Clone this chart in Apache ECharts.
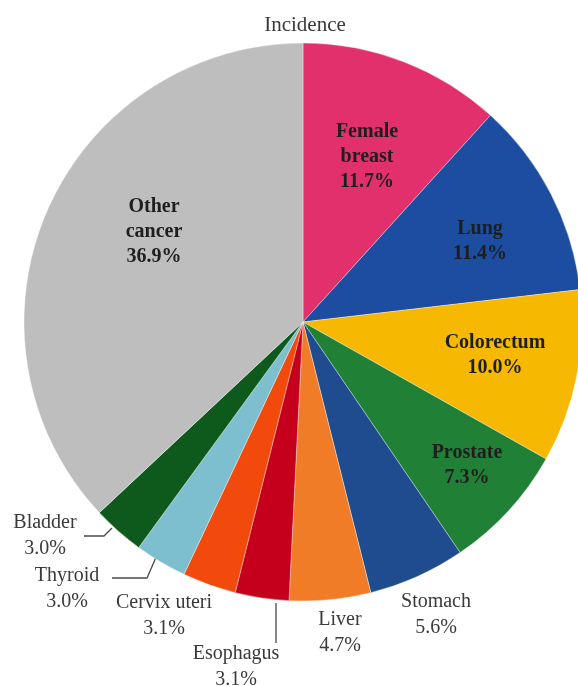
<!DOCTYPE html>
<html>
<head>
<meta charset="utf-8">
<style>
  html, body { margin: 0; padding: 0; background: #ffffff; }
  #chart { width: 578px; height: 686px; }
</style>
<script src="https://cdn.jsdelivr.net/npm/echarts@6/dist/echarts.min.js"></script>
</head>
<body>
<div id="chart"></div>
<script>
// Cancer incidence shares (%), clockwise from 12 o'clock
const categories = [
  'Female breast', 'Lung', 'Colorectum', 'Prostate', 'Stomach', 'Liver',
  'Esophagus', 'Cervix uteri', 'Thyroid', 'Bladder', 'Other cancer'
];
const shares = [11.7, 11.4, 10.0, 7.3, 5.6, 4.7, 3.1, 3.1, 3.0, 3.0, 36.9];
const sliceColors = [
  '#e1306c', '#1c4da1', '#f6b800', '#1f8036', '#1e4c8f', '#f07c28',
  '#c4001c', '#f24a0c', '#7dbfcf', '#0e5a1c', '#bebebe'
];
const insideLabels = ['Female breast', 'Lung', 'Colorectum', 'Prostate', 'Other cancer'];

// Hand-placed annotation spots (pixel centre of each label block, plus leader lines)
const labelSpots = {
  'Female breast': { x: 367, y: 157 },
  'Lung':          { x: 480, y: 241 },
  'Colorectum':    { x: 495, y: 355 },
  'Prostate':      { x: 467, y: 465 },
  'Other cancer':  { x: 154, y: 232 },
  'Stomach':       { x: 436, y: 615 },
  'Liver':         { x: 340, y: 633 },
  'Esophagus':     { x: 236, y: 667, line: [[276, 603], [276, 622], [276, 643]] },
  'Cervix uteri':  { x: 164, y: 616 },
  'Thyroid':       { x: 67,  y: 589, line: [[157, 555], [147, 578], [112, 578]] },
  'Bladder':       { x: 45,  y: 536, line: [[112, 528], [104, 536], [84, 536]] }
};

const serif = '"Liberation Serif", "Times New Roman", serif';

const pieData = categories.map((name, i) => {
  const inside = insideLabels.includes(name);
  return {
    name: name,
    value: shares[i],
    itemStyle: { color: sliceColors[i] },
    label: inside
      ? { position: 'inside', fontWeight: 'bold', color: '#1e1e1e', fontSize: 20, lineHeight: 25 }
      : { position: 'outside', fontWeight: 'normal', color: '#3a3a3a', fontSize: 20, lineHeight: 26 },
    labelLine: { show: !!labelSpots[name].line, lineStyle: { color: '#4a4a4a', width: 1.3 } }
  };
});

const chart = echarts.init(document.getElementById('chart'), null, { renderer: 'canvas' });

chart.setOption({
  animation: false,
  backgroundColor: '#ffffff',
  title: {
    text: 'Incidence',
    left: 300,
    top: 10,
    textAlign: 'center',
    textStyle: { fontFamily: serif, fontSize: 21, fontWeight: 'normal', color: '#3a3a3a' }
  },
  series: [{
    type: 'pie',
    center: [303, 322],
    radius: [0, 279],
    startAngle: 90,
    clockwise: true,
    avoidLabelOverlap: false,
    silent: true,
    itemStyle: { borderColor: 'rgba(255,255,255,0.6)', borderWidth: 0.6 },
    label: {
      show: true,
      fontFamily: serif,
      rotate: 0,
      align: 'center',
      formatter: function (p) {
        const name = insideLabels.includes(p.name) ? p.name.replace(' ', '\n') : p.name;
        return name + '\n' + p.value.toFixed(1) + '%';
      }
    },
    labelLayout: function (params) {
      const name = categories[params.dataIndex];
      const spot = labelSpots[name];
      const out = {
        x: spot.x,
        y: spot.y,
        align: 'center',
        verticalAlign: 'middle',
        moveOverlap: false,
        hideOverlap: false
      };
      if (spot.line) out.labelLinePoints = spot.line;
      return out;
    },
    data: pieData
  }]
});
</script>
</body>
</html>
